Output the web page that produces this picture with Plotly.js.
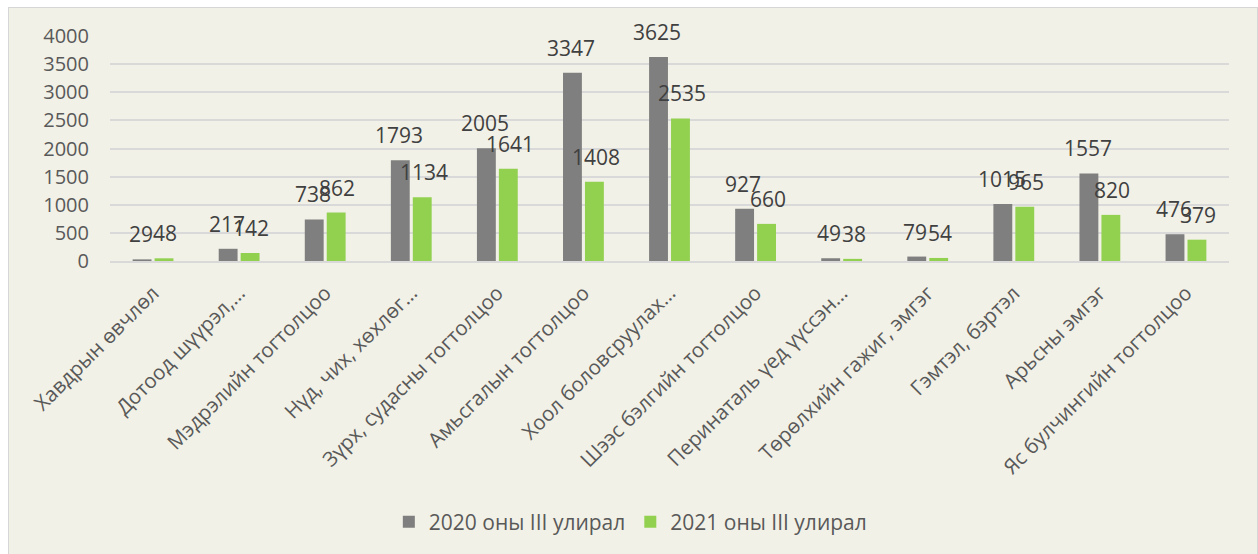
<!DOCTYPE html>
<html>
<head>
<meta charset="utf-8">
<script src="https://cdn.plot.ly/plotly-3.0.1.min.js"></script>
<style>
  html, body { margin: 0; padding: 0; background: #ffffff; overflow: hidden; width: 1258px; height: 554px; }
  #chart { position: absolute; left: 8px; top: 7px; width: 1248px; height: 560px;
           border-left: 1px solid #d6d6d6; border-top: 1px solid #d6d6d6; border-right: 1px solid #d6d6d6;
           background: #f2f1e7; }
</style>
</head>
<body>
<div id="chart"></div>
<script>
const categories = [
  "Хавдрын өвчлөл",
  "Дотоод шүүрэл,…",
  "Мэдрэлийн тогтолцоо",
  "Нүд, чих, хөхлөг…",
  "Зүрх, судасны тогтолцоо",
  "Амьсгалын тогтолцоо",
  "Хоол боловсруулах…",
  "Шээс бэлгийн тогтолцоо",
  "Перинаталь үед үүссэн…",
  "Төрөлхийн гажиг, эмгэг",
  "Гэмтэл, бэртэл",
  "Арьсны эмгэг",
  "Яс булчингийн тогтолцоо"
];
const series2020 = [29, 217, 738, 1793, 2005, 3347, 3625, 927, 49, 79, 1015, 1557, 476];
const series2021 = [48, 142, 862, 1134, 1641, 1408, 2535, 660, 38, 54, 965, 820, 379];
const seriesNames = ["2020 оны III улирал", "2021 оны III улирал"];
const yTicks = [0, 500, 1000, 1500, 2000, 2500, 3000, 3500, 4000];

const FONT = "Open Sans, Noto Sans, sans-serif";
const colors = ["#7f7f7f", "#92d050"];

const traces = [series2020, series2021].map((vals, i) => ({
  type: "bar",
  name: seriesNames[i],
  x: categories,
  y: vals,
  marker: { color: colors[i] },
  hoverinfo: "none"
}));

const annotations = [];
[series2020, series2021].forEach((vals, i) => {
  vals.forEach((v, j) => {
    annotations.push({
      x: categories[j], y: v, xref: "x", yref: "y",
      text: String(v), showarrow: false,
      xanchor: "center", yanchor: "bottom",
      xshift: i === 0 ? -12.3 : 12.3, yshift: 9,
      font: { family: FONT, size: 21, color: "#404040" }
    });
  });
});

const layout = {
  width: 1248, height: 546,
  margin: { l: 101, r: 28, t: 28, b: 288, pad: 0 },
  paper_bgcolor: "#f2f1e7",
  plot_bgcolor: "#f2f1e7",
  barmode: "group",
  bargap: 0.49,
  bargroupgap: 0.14,
  showlegend: true,
  legend: {
    orientation: "h", x: 0.465, xanchor: "center", y: -1.16, yanchor: "middle",
    font: { family: FONT, size: 21, color: "#595959" },
    itemwidth: 30,
    bgcolor: "rgba(0,0,0,0)"
  },
  xaxis: {
    type: "category",
    tickangle: -45,
    tickfont: { family: FONT, size: 20.5, color: "#595959" },
    showgrid: false,
    showline: true, linecolor: "#d9d9d9", linewidth: 2,
    ticks: "", ticklabelstandoff: 10,
    fixedrange: true
  },
  yaxis: {
    range: [0, 4000],
    tickvals: yTicks,
    tickformat: "d",
    tickfont: { family: FONT, size: 20, color: "#595959" },
    showgrid: true, gridcolor: "#d9d9d9", gridwidth: 2,
    zeroline: false, showline: false,
    ticks: "", ticklabelstandoff: 20,
    fixedrange: true
  },
  annotations: annotations
};

Plotly.newPlot("chart", traces, layout, { displayModeBar: false, staticPlot: true });
</script>
</body>
</html>
